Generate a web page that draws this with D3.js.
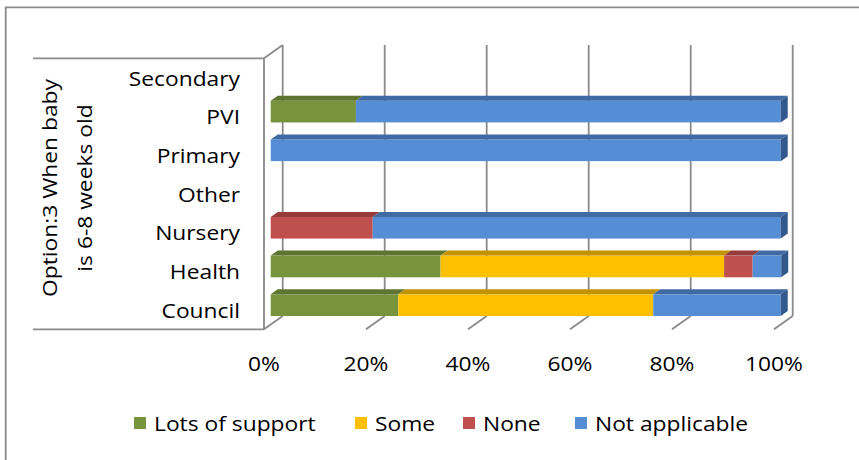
<!DOCTYPE html>
<html>
<head>
<meta charset="utf-8">
<script src="https://cdn.jsdelivr.net/npm/d3@7"></script>
<style>
  html, body { margin: 0; padding: 0; background: #fff; }
  svg { display: block; }
  text { font-family: "Open Sans", sans-serif; fill: #000; }
</style>
</head>
<body>
<svg id="chart" width="859" height="460"></svg>
<script>
// Categories, top to bottom as listed on the axis
const categories = ["Secondary", "PVI", "Primary", "Other", "Nursery", "Health", "Council"];
const seriesNames = ["Lots of support", "Some", "None", "Not applicable"];
// Share of answers per category (percent), one array per series
const lotsOfSupport = [0, 16.7, 0, 0, 0, 33.3, 25];
const some          = [0, 0, 0, 0, 0, 55.6, 50];
const none          = [0, 0, 0, 0, 20, 5.6, 0];
const notApplicable = [0, 83.3, 100, 0, 80, 5.6, 25];
const tickLabels = ["0%", "20%", "40%", "60%", "80%", "100%"];
const tickValues = [0, 20, 40, 60, 80, 100];

const seriesValues = [lotsOfSupport, some, none, notApplicable];
const faceColors = ["#77933C", "#FFC000", "#C0504D", "#558ED5"];
const topColors  = ["#5E7530", "#C29200", "#963D3B", "#3F6AA3"];
const sideColors = ["#4D6027", "#A07800", "#7E3230", "#33598C"];

const svg = d3.select("#chart");
const grid = "#8a8a8a";

// Plot geometry: front plane of the 3D box and its depth offset
const frontLeft = 264, frontRight = 774, frontTop = 58.3, frontBottom = 329.3;
const depth = { dx: 18.7, dy: -13.3 };
const barDepthStart = 0.36;               // bars sit inside the box depth
const barDepth = { dx: 7, dy: -5 };

const x = d3.scaleLinear().domain([0, 100]).range([frontLeft, frontRight]);
const y = d3.scaleBand().domain(categories).range([frontTop, frontBottom]).paddingInner(0.44).paddingOuter(0.22);
const yRow = d3.scaleBand().domain(categories).range([frontTop, frontBottom]);

const scaleX = 1.14;   // widened glyphs

// Outer frame (top and left edges)
svg.append("path")
  .attr("d", "M5.7,460 L5.7,7.3 L859,7.3")
  .attr("fill", "none").attr("stroke", grid).attr("stroke-width", 1.8);

// Axis-title bracket lines
svg.append("line").attr("x1", 33).attr("x2", frontLeft).attr("y1", frontTop).attr("y2", frontTop)
  .attr("stroke", grid).attr("stroke-width", 1.8);
svg.append("line").attr("x1", 33).attr("x2", frontLeft).attr("y1", frontBottom).attr("y2", frontBottom)
  .attr("stroke", grid).attr("stroke-width", 1.8);

// Back wall gridlines and floor ticks
const gridG = svg.append("g").attr("stroke", grid).attr("stroke-width", 1.8).attr("fill", "none");
tickValues.forEach(v => {
  const bx = x(v) + depth.dx;
  gridG.append("line")
    .attr("x1", bx).attr("x2", bx)
    .attr("y1", frontTop + depth.dy).attr("y2", frontBottom + depth.dy);
  gridG.append("line")
    .attr("x1", bx).attr("y1", frontBottom + depth.dy)
    .attr("x2", x(v)).attr("y2", frontBottom);
});
// Left wall: front edge and top slant
gridG.append("line").attr("x1", x(0)).attr("x2", x(0)).attr("y1", frontTop).attr("y2", frontBottom);
gridG.append("line").attr("x1", x(0)).attr("y1", frontTop)
  .attr("x2", x(0) + depth.dx).attr("y2", frontTop + depth.dy);

// Stacked 3D bars
const stackData = categories.map((c, i) => {
  const row = { category: c };
  seriesNames.forEach((s, k) => row[s] = seriesValues[k][i]);
  return row;
});
const stacked = d3.stack().keys(seriesNames)(stackData);

const ox = depth.dx * barDepthStart, oy = depth.dy * barDepthStart;
const barsG = svg.append("g");
categories.forEach((c, i) => {
  const y0 = y(c) + oy, h = y.bandwidth();
  let lastK = -1;
  stacked.forEach((layer, k) => {
    const d = layer[i];
    if (d[1] - d[0] <= 0) return;
    const x0 = x(d[0]) + ox, x1 = x(d[1]) + ox;
    barsG.append("rect")
      .attr("x", x0).attr("y", y0).attr("width", x1 - x0).attr("height", h)
      .attr("fill", faceColors[k]);
    barsG.append("path")
      .attr("d", `M${x0},${y0} L${x0 + barDepth.dx},${y0 + barDepth.dy} L${x1 + barDepth.dx},${y0 + barDepth.dy} L${x1},${y0} Z`)
      .attr("fill", topColors[k]);
    lastK = k;
  });
  if (lastK >= 0) {
    const end = x(stacked[lastK][i][1]) + ox;
    barsG.append("path")
      .attr("d", `M${end},${y0} L${end + barDepth.dx},${y0 + barDepth.dy} L${end + barDepth.dx},${y0 + h + barDepth.dy} L${end},${y0 + h} Z`)
      .attr("fill", sideColors[lastK]);
  }
});

// Category labels
categories.forEach(c => {
  svg.append("text")
    .attr("transform", `translate(240,${yRow(c) + yRow.bandwidth() / 2}) scale(${scaleX},1)`)
    .attr("text-anchor", "end").attr("dominant-baseline", "central")
    .attr("font-size", 20).text(c);
});

// Value axis labels
tickValues.forEach((v, i) => {
  svg.append("text")
    .attr("transform", `translate(${x(v)},363) scale(${scaleX},1)`)
    .attr("text-anchor", "middle").attr("dominant-baseline", "central")
    .attr("font-size", 20).text(tickLabels[i]);
});

// Axis title, two rotated lines
const titleLines = ["Option:3 When baby", "is 6-8 weeks old"];
const titleX = [57, 92];
titleLines.forEach((t, i) => {
  svg.append("text")
    .attr("transform", `translate(${titleX[i]},188) rotate(-90) scale(${scaleX},1)`)
    .attr("text-anchor", "middle")
    .attr("font-size", 20).text(t);
});

// Legend
const legendX = [134, 355, 463, 575];
seriesNames.forEach((s, k) => {
  svg.append("rect")
    .attr("x", legendX[k]).attr("y", 417).attr("width", 12).attr("height", 12)
    .attr("fill", faceColors[k]);
  svg.append("text")
    .attr("transform", `translate(${legendX[k] + 20},423) scale(${scaleX},1)`)
    .attr("dominant-baseline", "central")
    .attr("font-size", 20).text(s);
});
</script>
</body>
</html>
